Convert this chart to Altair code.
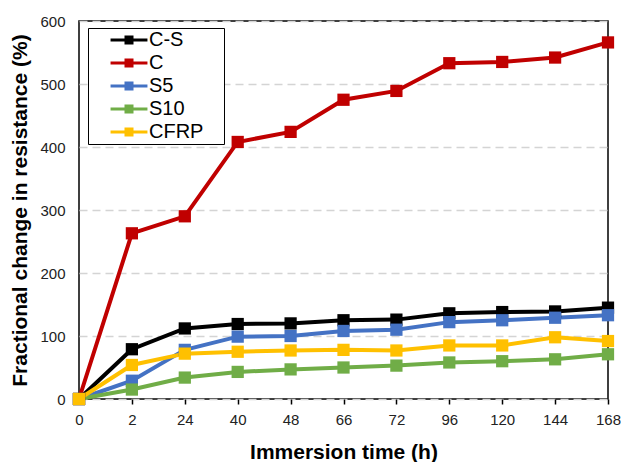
import altair as alt
import pandas as pd

times = ["0", "2", "24", "40", "48", "66", "72", "96", "120", "144", "168"]
series = ["C-S", "C", "S5", "S10", "CFRP"]
cs = [0, 79, 112, 119, 120, 125, 126, 136, 138, 139, 145]
c = [0, 263, 290, 408, 424, 475, 489, 533, 535, 542, 566]
s5 = [0, 29, 78, 99, 100, 108, 110, 122, 125, 129, 133]
s10 = [0, 15, 34, 43, 47, 50, 53, 58, 60, 63, 71]
cfrp = [0, 54, 72, 75, 77, 78, 77, 85, 85, 98, 92]
colors = ["#000000", "#C00000", "#4472C4", "#70AD47", "#FFC000"]

rows = []
for name, vals in zip(series, [cs, c, s5, s10, cfrp]):
    for t, v in zip(times, vals):
        rows.append({"time": t, "series": name, "value": v})
df = pd.DataFrame(rows)

FONT = "Liberation Sans"
legend_path = ("M-4.1,-0.33 L-1,-0.33 L-1,-1 L1,-1 L1,-0.33 L4.1,-0.33 "
               "L4.1,0.33 L1,0.33 L1,1 L-1,1 L-1,0.33 L-4.1,0.33 Z")

chart = alt.Chart(df).mark_line(
    strokeWidth=4,
    point=alt.OverlayMarkDef(shape="square", filled=True, size=150, opacity=1),
).encode(
    x=alt.X("time:O", sort=times, scale=alt.Scale(type="point", padding=0),
            axis=alt.Axis(title="Immersion time (h)", labelAngle=0, grid=False,
                          domain=False, ticks=True, tickColor="black", tickSize=5,
                          tickWidth=1.5, labelPadding=8, titlePadding=14)),
    y=alt.Y("value:Q", scale=alt.Scale(domain=[0, 600], nice=False),
            axis=alt.Axis(title="Fractional change in resistance (%)",
                          values=[0, 100, 200, 300, 400, 500, 600],
                          grid=True, gridDash=[8, 5], gridColor="#d4d4d4",
                          gridWidth=1.5, ticks=False, domain=False,
                          labelPadding=14, titlePadding=9)),
    color=alt.Color("series:N", sort=series,
                    scale=alt.Scale(domain=series, range=colors),
                    legend=alt.Legend(title="\u00a0", titleOrient="right",
                                      titlePadding=19, titleFontSize=10,
                                      orient="none", legendX=9, legendY=7,
                                      strokeColor="black", fillColor="white",
                                      padding=2, symbolType=legend_path,
                                      symbolSize=81, symbolStrokeWidth=0,
                                      labelFont=FONT, labelFontSize=20,
                                      labelColor="black", labelOffset=10,
                                      rowPadding=3, symbolOffset=29)),
).properties(
    width=529, height=378, background="white",
    autosize=alt.AutoSizeParams(type="none"),
    padding={"left": 71, "top": 13, "right": 13, "bottom": 63},
)

chart = chart.configure_view(stroke="black", strokeWidth=1.5).configure_axis(
    labelFont=FONT, labelFontSize=15, labelColor="#222222",
    titleFont=FONT, titleFontSize=21, titleFontWeight="bold", titleColor="black",
)

chart.save("out.html", embed_options={"renderer": "svg", "actions": False})
